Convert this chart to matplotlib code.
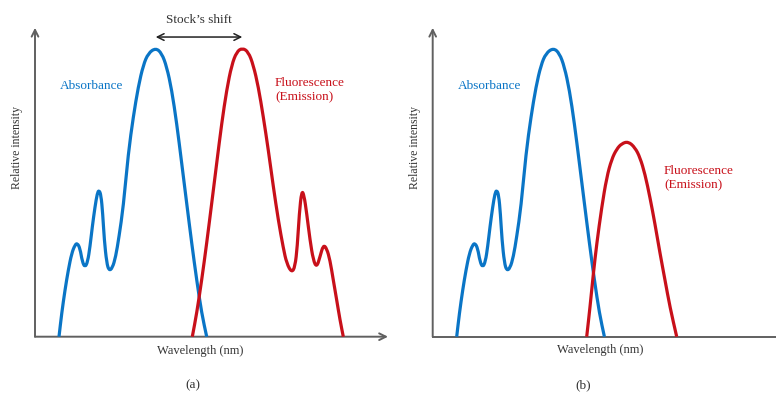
import matplotlib
matplotlib.use("Agg")
import matplotlib.pyplot as plt
from matplotlib.path import Path
from matplotlib.patches import PathPatch

plt.rcParams["font.family"] = ["Liberation Serif", "DejaVu Serif"]

# wavelength (arbitrary units from the y-axis) and relative intensity (%)
ABS_X = [24, 26.7, 30, 33.3, 36.7, 40, 42.3, 45, 47.3, 50, 52.7, 55, 57.3, 60,
         62.3, 64, 66, 67.7, 69.3, 71.7, 74, 77.3, 80.7, 84, 88.3, 93.3, 98.3,
         103.3, 108.3, 113.3, 120.7, 126.7, 131.7, 136.7, 141.7, 146.7, 151.7,
         156.7, 161.7, 166.7, 171.7]
ABS_Y = [0, 8.1, 16.2, 23.1, 28.9, 31.8, 32.4, 30.6, 26.0, 24.0, 26.0, 31.2,
         38.1, 45.0, 49.7, 50.8, 49.1, 42.7, 33.5, 25.6, 22.9, 23.7, 27.7, 34.6,
         45.0, 63.5, 76.2, 86.6, 94.1, 98.2, 100, 98.2, 93.5, 85.5, 73.9, 60.1,
         46.2, 32.4, 19.6, 8.1, 0]

# panel (a): emission mirrors the absorbance
EM_A_X = [157.3, 161.7, 166.7, 171.7, 176.7, 181.7, 186.7, 191.7, 196.7, 201.7,
          207.3, 213.3, 218.3, 223.3, 228.3, 233.3, 238.3, 243.3, 248.3, 251.7,
          256.7, 260, 262.3, 264.3, 266.7, 269, 271.7, 275, 278.3, 281.7, 285,
          288.3, 291.7, 295, 298.3, 301.7, 305, 308.3]
EM_A_Y = [0, 8.1, 19.6, 32.4, 46.2, 60.1, 73.9, 85.5, 94.1, 98.7,
          100, 98.7, 94.1, 86.6, 76.2, 64.7, 52.0, 40.4, 30.7, 25.4,
          22.2, 24.2, 31.2, 42.7, 50.6, 49.1, 42.7, 33.5, 26.5, 24.0, 27.7,
          31.8, 30.6, 26.5, 19.6, 12.7, 5.8, 0]

# panel (b): weaker, single-band emission
EM_B_X = [154, 157.3, 160.6, 164, 169, 174, 179, 184, 189, 195.6, 202.3, 207.3,
          212.3, 217.3, 222.3, 227.3, 232.3, 237.3, 244]
EM_B_Y = [0, 10.2, 21.7, 32.1, 44.8, 55.2, 61.5, 65.0, 66.9, 67.6, 65.5, 62.1,
          56.3, 48.2, 39.0, 28.9, 19.6, 10.2, 0]

BLUE = "#0a75c6"
RED = "#c8101a"
AXIS_C = "#606060"
TEXT_C = "#333333"

W, H = 776, 394
Y_TOP = 107
PX_PER_Y = 2.887
BOTTOM = (H - 336.7) / H
HEIGHT = Y_TOP * PX_PER_Y / H

fig = plt.figure(figsize=(W / 100, H / 100), dpi=100)


def smooth_curve(ax, xs, ys, color):
    # quadratic Bezier through segment midpoints, data points as controls
    verts = [(xs[0], ys[0])]
    codes = [Path.MOVETO]
    for i in range(1, len(xs) - 1):
        mx = (xs[i] + xs[i + 1]) / 2
        my = (ys[i] + ys[i + 1]) / 2
        if i == 1:
            verts.append(((xs[0] + xs[1]) / 2, (ys[0] + ys[1]) / 2))
            codes.append(Path.LINETO)
        verts += [(xs[i], ys[i]), (mx, my)]
        codes += [Path.CURVE3, Path.CURVE3]
    verts.append((xs[-1], ys[-1]))
    codes.append(Path.LINETO)
    ax.add_patch(PathPatch(Path(verts, codes), fill=False, edgecolor=color,
                           lw=2.3, capstyle="butt", joinstyle="round",
                           zorder=3))


def panel(left_px, width_px):
    ax = fig.add_axes([left_px / W, BOTTOM, width_px / W, HEIGHT])
    ax.set_xlim(0, width_px)
    ax.set_ylim(0, Y_TOP)
    ax.axis("off")
    arrow = dict(arrowstyle="->", color=AXIS_C, lw=1.4, mutation_scale=12,
                 shrinkA=0, shrinkB=0)
    ax.annotate("", xy=(0, Y_TOP), xytext=(0, 0), arrowprops=arrow,
                annotation_clip=False)
    return ax


# (a) Stokes shift
ax1 = panel(35, 355)
ax1.annotate("", xy=(353, 0), xytext=(0, 0),
             arrowprops=dict(arrowstyle="->", color=AXIS_C, lw=1.4,
                             mutation_scale=12, shrinkA=0, shrinkB=0),
             annotation_clip=False)
smooth_curve(ax1, ABS_X, ABS_Y, BLUE)
smooth_curve(ax1, EM_A_X, EM_A_Y, RED)
peak_abs = ABS_X[ABS_Y.index(max(ABS_Y))]
peak_em = EM_A_X[EM_A_Y.index(max(EM_A_Y))]
ax1.annotate("", xy=(peak_em, 103.8), xytext=(peak_abs, 103.8),
             arrowprops=dict(arrowstyle="<->", color="#222222", lw=1.1,
                             mutation_scale=12, shrinkA=0, shrinkB=0),
             annotation_clip=False)
ax1.text((peak_abs + peak_em) / 2, 109.7, "Stock\u2019s shift", ha="center",
         va="center", fontsize=9.5, color=TEXT_C)
ax1.text(25, 86.8, "Absorbance", color=BLUE, fontsize=9.5, va="center")
ax1.text(240, 85.3, "Fluorescence\n(Emission)", color=RED, fontsize=9.5,
         va="center", linespacing=1.25)
ax1.text(-18, 65.4, "Relative intensity", rotation=90, ha="center",
         va="center", fontsize=8.5, color=TEXT_C)
ax1.text(165, -4.9, "Wavelength (nm)", ha="center", va="center",
         fontsize=9, color=TEXT_C)
ax1.text(158, -17, "(a)", ha="center", va="center", fontsize=9.5,
         color=TEXT_C)

# (b) reduced emission
ax2 = panel(432.7, W - 432.7)
ax2.plot([0, W - 432.7], [0, 0], color=AXIS_C, lw=1.4, clip_on=False)
smooth_curve(ax2, ABS_X, ABS_Y, BLUE)
smooth_curve(ax2, EM_B_X, EM_B_Y, RED)
ax2.text(25.3, 86.8, "Absorbance", color=BLUE, fontsize=9.5, va="center")
ax2.text(231.3, 55.0, "Fluorescence\n(Emission)", color=RED, fontsize=9.5,
         va="center", linespacing=1.25)
ax2.text(-17.7, 65.4, "Relative intensity", rotation=90, ha="center",
         va="center", fontsize=8.5, color=TEXT_C)
ax2.text(167.3, -4.6, "Wavelength (nm)", ha="center", va="center",
         fontsize=9, color=TEXT_C)
ax2.text(150.3, -17, "(b)", ha="center", va="center", fontsize=9.5,
         color=TEXT_C)

fig.savefig("out.png", dpi=100)
